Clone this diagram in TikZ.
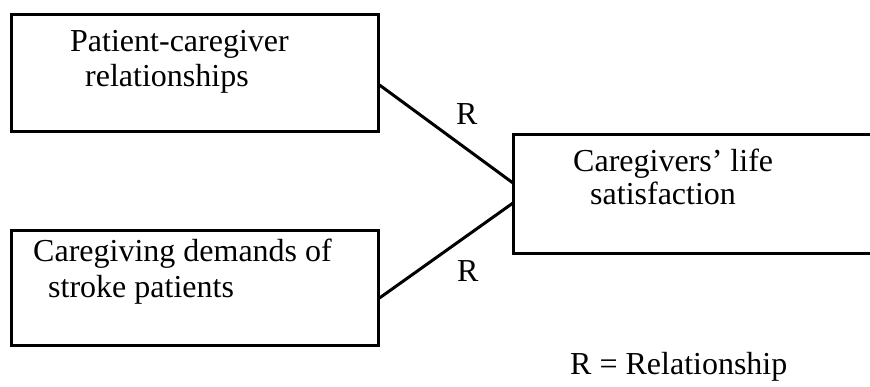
\documentclass[tikz,border=0pt]{standalone}
\usepackage{fontspec}
\setmainfont{Liberation Serif}
\usetikzlibrary{calc}
\begin{document}
\begin{tikzpicture}[x=1pt,y=1pt,
  box/.style={draw, line width=3pt, rectangle, inner sep=0pt},
  conn/.style={line width=3pt},
  txt/.style={anchor=base west, inner sep=0pt, font=\fontsize{32}{35}\selectfont},
  rlab/.style={anchor=base west, inner sep=0pt, font=\fontsize{32}{35}\selectfont}]
\useasboundingbox (0,0) rectangle (870,387);
% boxes
\node[box, minimum width=367pt, minimum height=117pt] (b1) at (194.5,313.5) {};
\node[box, minimum width=367pt, minimum height=115pt] (b2) at (194.5,98.5) {};
\coordinate (b3tr) at (875,252);
\coordinate (b3tl) at (513,252);
\coordinate (b3bl) at (513,133);
\coordinate (b3br) at (875,133);
\draw[conn] (b3tr) -- (b3tl) -- (b3bl) -- (b3br);
% texts
\node[txt] (t1a) at (70,335) {Patient-caregiver};
\node[txt] (t1b) at (85,300) {relationships};
\node[txt] (t2a) at (33,125) {Caregiving demands of};
\node[txt] (t2b) at (48,89) {stroke patients};
\node[txt] (t3a) at (573,215) {Caregivers’ life};
\node[txt] (t3b) at (590,182) {satisfaction};
% connectors
\coordinate (s1) at ($(b1.east)+(0,-11.5)$);
\coordinate (s2) at ($(b2.east)+(0,-9.5)$);
\coordinate (e1) at (513,204);
\coordinate (e2) at (513,184);
\draw[conn] (s1) -- (e1);
\draw[conn] (s2) -- (e2);
\node[rlab] (r1) at (456,262) {R};
\node[rlab] (r2) at (457,105) {R};
\node[txt] (leg) at (570,12) {R = Relationship};
\end{tikzpicture}
\end{document}
